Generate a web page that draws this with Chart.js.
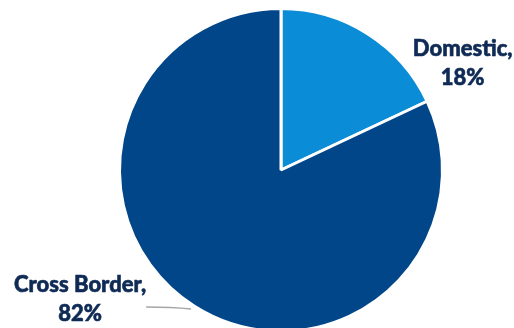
<!DOCTYPE html>
<html>
<head>
<meta charset="utf-8">
<script src="https://cdn.jsdelivr.net/npm/chart.js@4.4.1/dist/chart.umd.min.js"></script>
<style>
  html, body { margin: 0; padding: 0; background: #fff; }
  #wrap { width: 514px; height: 328px; overflow: hidden; position: relative; }
  #box { width: 514px; height: 340px; }
</style>
</head>
<body>
<div id="wrap"><div id="box"><canvas id="pie"></canvas></div></div>
<script>
// Share of flows by type
const categories = ['Domestic', 'Cross Border'];
const shares = [18, 82];
const sliceColors = ['#0a8dd6', '#02468a'];

// Label placement around the pie, in units of the radius from the centre
const labelSpots = [
    { dx: 1.125, dy: -0.706, leader: false },
    { dx: -1.244, dy: 0.756, leader: true }
];

const pieLabels = {
    id: 'pieLabels',
    afterDatasetsDraw(chart) {
        const c = chart.ctx;
        const meta = chart.getDatasetMeta(0);
        meta.data.forEach((arc, i) => {
            const r = arc.outerRadius;
            const x = arc.x + labelSpots[i].dx * r;
            const y = arc.y + labelSpots[i].dy * r;
            if (labelSpots[i].leader) {
                c.save();
                c.strokeStyle = '#a6a6a6';
                c.lineWidth = 1.5;
                c.beginPath();
                c.moveTo(x + 66, y + 15);
                c.quadraticCurveTo(x + 92, y + 15, x + 111, y + 17);
                c.stroke();
                c.restore();
            }
            c.save();
            c.fillStyle = '#0f2b55';
            c.strokeStyle = '#0f2b55';
            c.lineWidth = 0.6;
            c.font = '900 22px Lato';
            c.textAlign = 'center';
            c.textBaseline = 'alphabetic';
            [categories[i] + ',', shares[i] + '%'].forEach((line, k) => {
                c.fillText(line, x, y + k * 29);
                c.strokeText(line, x, y + k * 29);
            });
            c.restore();
        });
    }
};

new Chart(document.getElementById('pie'), {
    type: 'pie',
    data: {
        labels: categories,
        datasets: [{
            data: shares,
            backgroundColor: sliceColors,
            borderColor: '#ffffff',
            borderWidth: 3
        }]
    },
    options: {
        responsive: true,
        maintainAspectRatio: false,
        animation: false,
        layout: { padding: { left: 118, right: 70, top: 7, bottom: 7 } },
        plugins: {
            legend: { display: false },
            tooltip: { enabled: false }
        }
    },
    plugins: [pieLabels]
});
</script>
</body>
</html>
